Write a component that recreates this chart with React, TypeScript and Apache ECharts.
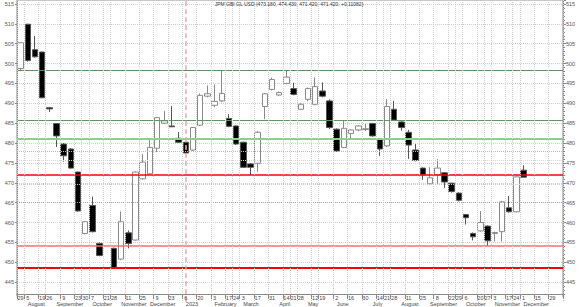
import React, { useEffect, useRef } from 'react';
import * as echarts from 'echarts';

// weekly slots (Friday dates), 76 slots on the axis
const weekDates = [
  '2022-07-29','2022-08-05','2022-08-12','2022-08-19','2022-08-26','2022-09-02','2022-09-09','2022-09-16','2022-09-23','2022-09-30',
  '2022-10-07','2022-10-14','2022-10-21','2022-10-28','2022-11-04','2022-11-11','2022-11-18','2022-11-25','2022-12-02','2022-12-09',
  '2022-12-16','2022-12-23','2022-12-30','2023-01-06','2023-01-13','2023-01-20','2023-01-27','2023-02-03','2023-02-10','2023-02-17',
  '2023-02-24','2023-03-03','2023-03-10','2023-03-17','2023-03-24','2023-03-31','2023-04-07','2023-04-14','2023-04-21','2023-04-28',
  '2023-05-05','2023-05-12','2023-05-19','2023-05-26','2023-06-02','2023-06-09','2023-06-16','2023-06-23','2023-06-30','2023-07-07',
  '2023-07-14','2023-07-21','2023-07-28','2023-08-04','2023-08-11','2023-08-18','2023-08-25','2023-09-01','2023-09-08','2023-09-15',
  '2023-09-22','2023-09-29','2023-10-06','2023-10-13','2023-10-20','2023-10-27','2023-11-03','2023-11-10','2023-11-17','2023-11-24',
  '2023-12-01','2023-12-08','2023-12-15','2023-12-22','2023-12-29','2024-01-05'
];

const dayLabels = [
  '29','5','','19','26','','9','','23','30',
  '7','','21','28','','11','','25','','9',
  '','23','','6','','20','','3','','17',
  '24','3','','17','','31','','14','21','28',
  '','12','19','','2','','16','','30','',
  '14','21','28','','11','','25','','8','',
  '22','29','6','','20','27','3','','17','24',
  '1','','15','','29',''
];

const monthLabels = [
  '','August','','','','September','','','','',
  'October','','','','November','','','','December','',
  '','','','2023','','','','February','','',
  '','March','','','','','April','','','',
  'May','','','','June','','','','','July',
  '','','','August','','','','September','','',
  '','','October','','','','November','','','',
  'December','','','','',''
];

// OHLC per week (null = no candle)
const opens = [
  498.75,509.9,503.5,502.9,488.9,484.9,479.75,478.5,472.7,457.25,
  464.3,454.75,null,453.5,450.8,457.4,455.6,471,472.25,478.7,
  485,484.3,481.2,480.2,478.25,484.5,491.8,489.5,490.6,486.2,
  484.3,480.2,474.75,474.9,489.2,493.5,492.1,495,493.7,488.5,
  491,489.75,493.1,490.6,483.5,478.9,482.4,483.3,483.4,484.9,
  481,479.3,488.5,485.3,482.7,478.25,473.7,469.75,472,472.5,
  469.9,467.4,462,457.25,457.9,459.1,457.25,457.7,463.7,462.7,
  473.18
];
const closes = [
  505.25,500.75,501.7,491.4,488.6,481.8,476.8,473.7,462.9,460.2,
  457.7,451.7,null,448.5,460.2,454.75,472.7,475.2,478.9,486.4,
  485.6,484.1,480.2,477.5,483.9,492,492.4,490.5,492.5,484.2,
  479.75,473.9,473.9,482.7,492.4,496,492.7,496.6,492.25,489.75,
  493.7,494.2,491.8,483.9,478,483.7,483.3,484.3,483.6,481.8,
  478.5,489.2,485.8,483.9,479.5,475.6,472,471.25,473.7,470.2,
  467.8,465.6,461.2,456.4,460,455.4,457.5,465.2,462.7,471.5,
  471.42
];
const lows = [
  498.1,500.5,501.5,491.3,487.8,479,475.3,473.5,462.8,457,
  457.5,451.5,null,448.3,450.5,453.5,455.4,470.8,472,477.7,
  484.8,484,480,477.3,478,484.3,491.5,489,490.3,484,
  479.5,473.7,472,472.8,486,493.2,491.8,494.8,492,488.3,
  490.5,489.5,491.5,483.5,477.8,478.7,481.2,483,483,481.6,
  476.8,479,485.6,483.1,476,475.4,470.75,469.5,469.7,468.7,
  467.5,465.3,459.5,455.5,457.7,454.1,455.2,455.2,462.5,462.5,
  471.42
];
const highs = [
  505.3,510,507,503,489.1,485,480,478.7,472.8,460.4,
  466.5,455,null,453.7,462.8,458,472.9,477.25,481,486.5,
  488.1,489.3,482.8,480.4,484,492.5,494.5,494.75,498.25,487.25,
  484.5,480.4,475,483,492.6,496.5,493,498.25,495.2,490,
  494,496.5,495.25,491,483.7,485.6,483.5,484.5,484.8,485.1,
  481.2,491,490.6,485.7,483.3,479.75,473.9,473.9,476,472.7,
  470,467.6,462.2,457.5,462.9,459.3,457.7,465.4,466.7,471.6,
  474.43
];

// horizontal reference levels
const levelValues = [498.25, 485.75, 481, 478, 475.75, 472, 469.75, 465, 454.1, 448.5];
const yearStartIndex = 23;

const titleText = 'JPM GBI GL USD (473.180, 474.430, 471.420, 471.420, +0.11082)';

const levelStyles = [
  { color: '#5f8f5f', width: 1, type: 'solid' },
  { color: '#5f955f', width: 1, type: 'solid' },
  { color: '#8ccf8c', width: 2, type: 'solid' },
  { color: '#9ad09a', width: 1, type: 'dotted' },
  { color: '#c4e2c4', width: 1, type: 'dotted' },
  { color: '#ff0000', width: 1.5, type: 'solid' },
  { color: '#f5b4b4', width: 1, type: 'dotted' },
  { color: '#f08080', width: 1, type: 'dotted' },
  { color: '#f07070', width: 1.5, type: 'solid' },
  { color: '#ff0000', width: 2, type: 'solid' },
];

export default function App() {
  const ref = useRef<HTMLDivElement>(null);
  useEffect(() => {
    document.body.style.margin = '0';
    const chart = echarts.init(ref.current!, null, { renderer: 'svg' });
    const candleData = opens.map((o, i) =>
      o == null ? '-' : [o, closes[i], lows[i], highs[i]]
    );
    const font = 'Liberation Sans, Arial, sans-serif';
    const yCommon = {
      type: 'value',
      min: 440,
      max: 516,
      interval: 5,
      axisLine: { show: true, lineStyle: { color: '#888' } },
      axisLabel: { fontSize: 5.5, color: '#555', fontFamily: font, showMinLabel: false, showMaxLabel: false, margin: 3 },
    };
    chart.setOption({
      animation: false,
      grid: { left: 17, right: 17, top: 0, bottom: 3, show: true, borderColor: '#888', borderWidth: 1 },
      xAxis: [
        {
          type: 'category',
          data: weekDates,
          boundaryGap: true,
          offset: -8,
          z: 10,
          axisLine: { show: true, lineStyle: { color: '#888' } },
          axisTick: { show: true, interval: (idx: number) => dayLabels[idx] !== '', length: 5, lineStyle: { color: '#888' } },
          axisLabel: {
            interval: 0,
            hideOverlap: false,
            fontSize: 5.5,
            color: '#444',
            fontFamily: font,
            margin: 1,
            formatter: (_v: string, idx: number) => dayLabels[idx],
          },
          splitLine: { show: true, interval: (idx: number) => dayLabels[idx] !== '', lineStyle: { color: '#ccc', type: 'dotted' } },
        },
        {
          type: 'category',
          data: weekDates,
          boundaryGap: true,
          position: 'bottom',
          offset: -2,
          z: 10,
          axisLine: { show: false },
          axisTick: { show: false },
          axisLabel: {
            interval: 0,
            hideOverlap: false,
            fontSize: 5.5,
            color: '#444',
            fontFamily: font,
            margin: 1,
            align: 'left',
            formatter: (_v: string, idx: number) => monthLabels[idx],
          },
          splitLine: { show: false },
        },
      ],
      yAxis: [
        {
          ...yCommon,
          position: 'left',
          axisTick: { show: true, length: 2, lineStyle: { color: '#888' } },
          splitLine: { show: true, lineStyle: { color: '#ccc', type: 'dotted' } },
        },
        {
          ...yCommon,
          position: 'right',
          axisTick: { show: true, length: 3, lineStyle: { color: '#888' } },
          minorTick: { show: true, splitNumber: 5, length: 2, lineStyle: { color: '#888' } },
          splitLine: { show: false },
        },
      ],
      graphic: [
        { type: 'rect', z: 5, shape: { x: 0, y: 297, width: 580, height: 10 }, style: { fill: '#fff' } },
        { type: 'rect', z: 5, shape: { x: 0, y: 296.5, width: 17, height: 10 }, style: { fill: '#fff' } },
        {
          type: 'text', z: 20, x: 289, y: 1,
          style: { text: titleText, fontSize: 5, fill: '#333', fontFamily: font, textAlign: 'center', textVerticalAlign: 'top' },
        },
      ],
      series: [
        {
          type: 'candlestick',
          xAxisIndex: 0,
          yAxisIndex: 0,
          barWidth: 6,
          data: candleData,
          itemStyle: { color: '#ffffff', color0: '#000000', borderColor: '#8a8a8a', borderColor0: '#555555', borderWidth: 1 },
          markLine: {
            silent: true,
            symbol: ['none', 'none'],
            label: { show: false },
            data: [
              ...levelValues.map((v, k) => ({ yAxis: v, lineStyle: levelStyles[k] })),
              { xAxis: yearStartIndex, lineStyle: { color: '#f4a8a8', width: 1.5, type: [5, 3] } },
            ],
          },
        },
      ],
    });
    return () => chart.dispose();
  }, []);
  return <div ref={ref} style={{ width: 580, height: 307 }} />;
}
